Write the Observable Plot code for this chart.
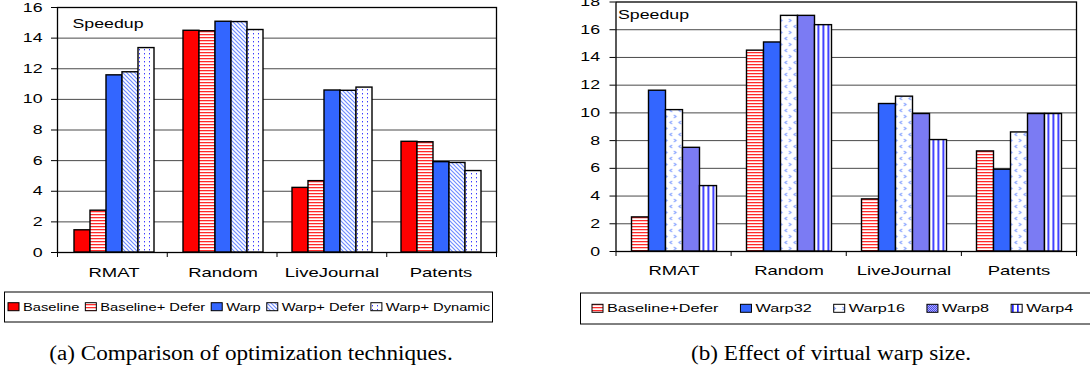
<!DOCTYPE html>
<html>
<head>
<meta charset="utf-8">
<script src="https://cdn.jsdelivr.net/npm/d3@7"></script>
<script src="https://cdn.jsdelivr.net/npm/@observablehq/plot@0.6"></script>
<style>
  body { margin: 0; background: #fff; }
  #page { position: relative; width: 1090px; height: 370px; background: #fff; overflow: hidden; }
  #page svg { overflow: visible; }
</style>
</head>
<body>
<div id="page">
  <svg width="0" height="0" style="position:absolute">
    <defs>
      <pattern id="pDefer" width="4" height="3" patternUnits="userSpaceOnUse">
        <rect width="4" height="3" fill="#ffffff"/>
        <rect y="1" width="4" height="1" fill="#ff2a2a"/>
        <rect y="2" width="4" height="1" fill="#ffc4c4"/>
      </pattern>
      <pattern id="pWarpDefer" width="4" height="4" patternUnits="userSpaceOnUse">
        <rect width="4" height="4" fill="#ffffff"/>
        <path d="M-1,-1 L5,5 M-1,3 L1,5 M3,-1 L5,1" stroke="#6f8cff" stroke-width="1.2"/>
      </pattern>
      <pattern id="pDynamic" width="5" height="4" patternUnits="userSpaceOnUse">
        <rect width="5" height="4" fill="#ffffff"/>
        <rect x="2" y="1" width="1" height="1.4" fill="#3a3aff"/>
      </pattern>
      <pattern id="pWarp16" width="9" height="12" patternUnits="userSpaceOnUse">
        <rect width="9" height="12" fill="#ffffff"/>
        <path d="M3.5,1 L1.5,2.5 L3.5,4 M5.5,7 L7.5,8.5 L5.5,10" fill="none" stroke="#7f9dff" stroke-width="1.1"/>
      </pattern>
      <pattern id="pWarp8" width="2" height="2" patternUnits="userSpaceOnUse">
        <rect width="2" height="2" fill="#aeaeff"/>
        <rect width="1" height="1" fill="#4848e6"/>
        <rect x="1" y="1" width="1" height="1" fill="#4848e6"/>
      </pattern>
      <pattern id="pWarp4" width="5" height="4" patternUnits="userSpaceOnUse">
        <rect width="5" height="4" fill="#ffffff"/>
        <rect x="2" width="1.7" height="4" fill="#2222ff"/>
      </pattern>
    </defs>
  </svg>
</div>
<script>
// ---------- data ----------
const categories = ["RMAT", "Random", "LiveJournal", "Patents"];

// (a) Comparison of optimization techniques
const seriesA = ["Baseline", "Baseline+ Defer", "Warp", "Warp+ Defer", "Warp+ Dynamic"];
const aBaseline      = [1.45, 14.48, 4.22, 7.23];
const aBaselineDefer = [2.73, 14.45, 4.66, 7.20];
const aWarp          = [11.57, 15.07, 10.58, 5.90];
const aWarpDefer     = [11.77, 15.05, 10.56, 5.85];
const aWarpDynamic   = [13.35, 14.53, 10.77, 5.32];
const yTicksA = [0, 2, 4, 6, 8, 10, 12, 14, 16];

// (b) Effect of virtual warp size
const seriesB = ["Baseline+Defer", "Warp32", "Warp16", "Warp8", "Warp4"];
const bBaselineDefer = [2.46, 14.49, 3.76, 7.22];
const bWarp32        = [11.60, 15.08, 10.64, 5.90];
const bWarp16        = [10.20, 17.00, 11.17, 8.59];
const bWarp8         = [7.48, 17.00, 9.92, 9.92];
const bWarp4         = [4.72, 16.33, 8.04, 9.92];
const yTicksB = [0, 2, 4, 6, 8, 10, 12, 14, 16, 18];

const yLabel = "Speedup";
const captionA = "(a) Comparison of optimization techniques.";
const captionB = "(b) Effect of virtual warp size.";

// ---------- styles ----------
const fillsA = ["#ff0000", "url(#pDefer)", "#3366ff", "url(#pWarpDefer)", "url(#pDynamic)"];
const fillsB = ["url(#pDefer)", "#3366ff", "url(#pWarp16)", "url(#pWarp8)", "url(#pWarp4)"];
const SANS = "'Liberation Sans', Arial, sans-serif";
const SERIF = "'Liberation Serif', 'Times New Roman', serif";

const page = document.getElementById("page");

function table(series, cols) {
  return categories.flatMap((c, i) => series.map((s, j) => ({category: c, series: s, value: cols[j][i]})));
}
const dataA = table(seriesA, [aBaseline, aBaselineDefer, aWarp, aWarpDefer, aWarpDynamic]);
const dataB = table(seriesB, [bBaselineDefer, bWarp32, bWarp16, bWarp8, bWarp4]);

function place(node, left, top) {
  node.style.position = "absolute";
  node.style.left = left + "px";
  node.style.top = top + "px";
  node.style.maxWidth = "none";
  page.append(node);
  return node;
}
function stretch(root, k) {
  root.querySelectorAll("text").forEach(t => {
    const L = t.getComputedTextLength();
    if (L > 0) {
      t.setAttribute("textLength", L * k);
      t.setAttribute("lengthAdjust", "spacingAndGlyphs");
    }
  });
}

function chart({left, width, height, margins, series, fills, data, ticks, ymax, tickPadY, tickPadFx, spdx, spdy}) {
  const common = {
    width, height,
    marginLeft: margins[0], marginRight: margins[1], marginTop: margins[2], marginBottom: margins[3],
    style: {fontFamily: SANS, background: "transparent", color: "#000"}
  };
  const base = Plot.plot({
    ...common,
    x: {domain: [0, categories.length]},
    y: {domain: [0, ymax]},
    marks: [
      Plot.ruleY(ticks.filter(t => t > 0 && t < ymax), {stroke: "#4a4a4a", strokeWidth: 1}),
      Plot.frame({stroke: "#000", strokeWidth: 1.3}),
      Plot.axisY(ticks, {tickSize: 6, tickPadding: tickPadY, fontSize: 12.5, label: null, stroke: "#000", fill: "#000"}),
      Plot.axisX(d3.range(categories.length + 1), {tickSize: 5, tickFormat: () => "", label: null, stroke: "#000"}),
      Plot.text([yLabel], {frameAnchor: "top-left", dx: spdx, dy: spdy, fontSize: 12.5, lineAnchor: "top", fill: "#000"})
    ]
  });
  const bars = Plot.plot({
    ...common,
    fx: {domain: categories, padding: 0, label: null},
    x: {domain: series, paddingInner: 0, paddingOuter: 0.75, axis: null},
    y: {domain: [0, ymax], axis: null},
    color: {domain: series, range: fills},
    marks: [
      Plot.barY(data, {fx: "category", x: "series", y: "value", fill: "series", stroke: "#000", strokeWidth: 1.4}),
      Plot.axisFx({anchor: "bottom", tickSize: 0, tickPadding: tickPadFx, fontSize: 13, label: null, fill: "#000"})
    ]
  });
  place(base, left, 0);
  place(bars, left, 0);
  stretch(base, 1.42);
  stretch(bars, 1.42);
}

// overlay for legends and captions
const over = d3.create("svg").attr("width", 1090).attr("height", 370).node();
place(over, 0, 0);
const ov = d3.select(over);

function legend(series, fills, {boxX, boxY, boxW, boxH, x0, cy, fontSize, k, gap}) {
  ov.append("rect").attr("x", boxX).attr("y", boxY).attr("width", boxW).attr("height", boxH)
    .attr("fill", "#fff").attr("stroke", "#000").attr("stroke-width", 1);
  let x = x0;
  series.forEach((s, i) => {
    ov.append("rect").attr("x", x).attr("y", cy - 4).attr("width", 11).attr("height", 8)
      .attr("fill", fills[i]).attr("stroke", "#000").attr("stroke-width", 1);
    const t = ov.append("text").attr("x", x + 15).attr("y", cy + fontSize * 0.36)
      .attr("font-family", SANS).attr("font-size", fontSize).attr("fill", "#000").text(s);
    const L = t.node().getComputedTextLength() * k;
    t.attr("textLength", L).attr("lengthAdjust", "spacingAndGlyphs");
    x += 15 + L + gap;
  });
}
function caption(text, cx, y) {
  const t = ov.append("text").attr("x", cx).attr("y", y).attr("text-anchor", "middle")
    .attr("font-family", SERIF).attr("font-size", 20.5).attr("fill", "#000").text(text);
  const L = t.node().getComputedTextLength() * 1.13;
  t.attr("textLength", L).attr("lengthAdjust", "spacingAndGlyphs");
}

legend(seriesA, fillsA, {boxX: 4.5, boxY: 292, boxW: 488, boxH: 30, x0: 8, cy: 306.7, fontSize: 10.8, k: 1.36, gap: 6});
legend(seriesB, fillsB, {boxX: 580.5, boxY: 293, boxW: 520, boxH: 31, x0: 592, cy: 308.3, fontSize: 11.6, k: 1.4, gap: 22});
caption(captionA, 251, 360);
caption(captionB, 831, 360);

chart({left: 0, width: 500, height: 285, margins: [57, 4, 7, 33], series: seriesA, fills: fillsA, data: dataA,
       ticks: yTicksA, ymax: 16, tickPadY: 9, tickPadFx: 15, spdx: 15, spdy: 12});
chart({left: 560, width: 520, height: 285, margins: [55.5, 4, 1.5, 34], series: seriesB, fills: fillsB, data: dataB,
       ticks: yTicksB, ymax: 18, tickPadY: 10, tickPadFx: 14, spdx: 2, spdy: 8.5});
</script>
</body>
</html>
